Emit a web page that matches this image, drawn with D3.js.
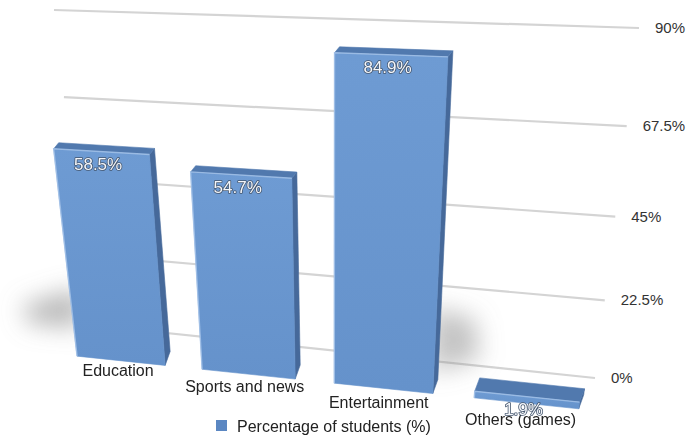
<!DOCTYPE html>
<html>
<head>
<meta charset="utf-8">
<script src="https://cdn.jsdelivr.net/npm/d3@7"></script>
<style>
  html, body { margin: 0; padding: 0; background: #ffffff; }
  svg { display: block; }
</style>
</head>
<body>
<svg id="chart" width="690" height="438"></svg>
<script>
// ---- data ----
const categories = ["Education", "Sports and news", "Entertainment", "Others (games)"];
const values = [58.5, 54.7, 84.9, 1.9];
const valueLabels = ["58.5%", "54.7%", "84.9%", "1.9%"];
const tickValues = [0, 22.5, 45, 67.5, 90];
const tickLabels = ["0%", "22.5%", "45%", "67.5%", "90%"];
const seriesName = "Percentage of students (%)";

// ---- perspective helpers ----
// Projective map from the unit square (u across, t up) onto a screen quad
// p0 = (0,0), p1 = (1,0), p2 = (1,1), p3 = (0,1).
function quadProjection(p0, p1, p2, p3) {
  const [x0, y0] = p0, [x1, y1] = p1, [x2, y2] = p2, [x3, y3] = p3;
  const dx1 = x1 - x2, dx2 = x3 - x2, dx3 = x0 - x1 + x2 - x3;
  const dy1 = y1 - y2, dy2 = y3 - y2, dy3 = y0 - y1 + y2 - y3;
  const den = dx1 * dy2 - dx2 * dy1;
  const g = (dx3 * dy2 - dx2 * dy3) / den;
  const h = (dx1 * dy3 - dx3 * dy1) / den;
  const a = x1 - x0 + g * x1, b = x3 - x0 + h * x3, c = x0;
  const d = y1 - y0 + g * y1, e = y3 - y0 + h * y3, f = y0;
  return (u, t) => {
    const w = g * u + h * t + 1;
    return [(a * u + b * t + c) / w, (d * u + e * t + f) / w];
  };
}

// back wall (gridlines) and the plane holding the bar fronts
const wall = quadProjection([90, 325], [595, 378], [639, 28], [54, 10]);
const front = quadProjection([73.7, 355.8], [611, 412.2], [657.8, 39.8], [35.4, 20.6]);
// bar depth: seen from above, so low tops show more of their top face
const back = (u, t) => {
  const p = front(u, t);
  return [p[0] + 5, p[1] - 6 - 8 * Math.pow(1 - t, 4)];
};

// ---- scales ----
const tScale = d3.scaleLinear().domain([0, 90]).range([0, 1]);
const uScale = d3.scaleBand().domain(categories).range([0.007, 0.946]).paddingInner(0.29).paddingOuter(0);

const svg = d3.select("#chart");
const defs = svg.append("defs");

const blur = defs.append("filter").attr("id", "soft").attr("x", "-80%").attr("y", "-80%")
  .attr("width", "260%").attr("height", "260%");
blur.append("feGaussianBlur").attr("stdDeviation", 12);

const grad = defs.append("linearGradient").attr("id", "frontFill")
  .attr("x1", 0).attr("y1", 0).attr("x2", 0).attr("y2", 1);
grad.append("stop").attr("offset", "0%").attr("stop-color", "#6e9bd3");
grad.append("stop").attr("offset", "100%").attr("stop-color", "#6592cb");

const poly = pts => "M" + pts.map(p => p[0].toFixed(2) + "," + p[1].toFixed(2)).join("L") + "Z";

// ---- gridlines + value axis labels ----
const grid = svg.append("g");
tickValues.forEach((v, i) => {
  const a = wall(0, tScale(v)), b = wall(1, tScale(v));
  grid.append("line")
    .attr("x1", a[0]).attr("y1", a[1]).attr("x2", b[0]).attr("y2", b[1])
    .attr("stroke", "#d4d4d4").attr("stroke-width", 2.2);
  grid.append("text")
    .attr("x", b[0] + 16).attr("y", b[1] + 5)
    .attr("font-family", "Liberation Sans, Arial, sans-serif")
    .attr("font-size", 15).attr("fill", "#333")
    .text(tickLabels[i]);
});

// ---- soft floor shadows beside the outer tall bars ----
const shadows = svg.append("g").attr("filter", "url(#soft)");
{
  const u0 = uScale(categories[0]);
  const p = front(u0, tScale(14));
  shadows.append("path")
    .attr("d", `M${p[0] + 8},${p[1] - 22} L${p[0] - 50},${p[1] - 4} L${p[0] - 42},${p[1] + 14} L${p[0] + 10},${p[1] + 18} Z`)
    .attr("fill", "#8a8a8a").attr("opacity", 0.6);
  const u2 = uScale(categories[2]) + uScale.bandwidth();
  const q = front(u2, tScale(16));
  shadows.append("path")
    .attr("d", `M${q[0] - 4},${q[1] - 30} L${q[0] + 40},${q[1] - 18} L${q[0] + 44},${q[1] + 22} L${q[0] - 4},${q[1] + 36} Z`)
    .attr("fill", "#8a8a8a").attr("opacity", 0.5);
}

// ---- bars ----
const bars = svg.append("g");
categories.forEach((cat, i) => {
  const u0 = uScale(cat), u1 = u0 + uScale.bandwidth();
  const tv = tScale(values[i]);
  const g = bars.append("g");
  // right side
  g.append("path").attr("d", poly([front(u1, 0), front(u1, tv), back(u1, tv), back(u1, 0)]))
    .attr("fill", "#46699a").attr("stroke", "#46699a").attr("stroke-width", 0.6).attr("stroke-linejoin", "round");
  // top
  g.append("path").attr("d", poly([front(u0, tv), front(u1, tv), back(u1, tv), back(u0, tv)]))
    .attr("fill", "#5179ae").attr("stroke", "#5179ae").attr("stroke-width", 0.6).attr("stroke-linejoin", "round");
  // front
  g.append("path").attr("d", poly([front(u0, 0), front(u1, 0), front(u1, tv), front(u0, tv)]))
    .attr("fill", "url(#frontFill)").attr("stroke", "#6592cb").attr("stroke-width", 0.6).attr("stroke-linejoin", "round");
  // bevel highlight along the top and left front edges
  g.append("path")
    .attr("d", "M" + front(u0, 0).join(",") + "L" + front(u0, tv).join(",") + "L" + front(u1, tv).join(","))
    .attr("fill", "none").attr("stroke", "#a6c4ea").attr("stroke-width", 1.4).attr("opacity", 0.8);
});

// ---- category labels ----
const cats = svg.append("g")
  .attr("font-family", "Liberation Sans, Arial, sans-serif").attr("font-size", 16).attr("fill", "#222");
categories.forEach(cat => {
  const um = uScale(cat) + uScale.bandwidth() / 2;
  const p = front(um, -0.05);
  cats.append("text").attr("x", p[0] - 4).attr("y", p[1] + 7 * um)
    .attr("text-anchor", "middle").text(cat);
});

// ---- value labels ----
const vals = svg.append("g")
  .attr("font-family", "Liberation Sans, Arial, sans-serif").attr("font-size", 17);
categories.forEach((cat, i) => {
  const um = uScale(cat) + uScale.bandwidth() / 2;
  const p = front(um, tScale(values[i]));
  vals.append("text").attr("x", p[0] - 3).attr("y", p[1] + 18)
    .attr("text-anchor", "middle")
    .attr("fill", "#f4f6fa").attr("stroke", "#44566e").attr("stroke-width", 1.6)
    .attr("paint-order", "stroke").attr("stroke-linejoin", "round")
    .text(valueLabels[i]);
});

// ---- legend ----
const legend = svg.append("g");
legend.append("rect").attr("x", 216).attr("y", 420).attr("width", 11).attr("height", 11).attr("fill", "#5b87c2");
legend.append("text").attr("x", 237).attr("y", 432)
  .attr("font-family", "Liberation Sans, Arial, sans-serif").attr("font-size", 16).attr("fill", "#222")
  .text(seriesName);
</script>
</body>
</html>
